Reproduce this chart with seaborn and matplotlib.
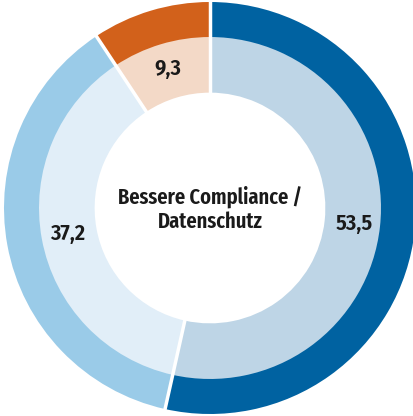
import numpy as np
import matplotlib
matplotlib.use("Agg")
import matplotlib.pyplot as plt
import seaborn as sns

# share of answers (%), clockwise from the top
categories = ["Bessere Compliance / Datenschutz", "Teilweise", "Nein"]
values = [53.5, 37.2, 9.3]
labels = ["53,5", "37,2", "9,3"]
center_text = "Bessere Compliance /\nDatenschutz"

outer_colors = ["#0062a1", "#9acbe8", "#d2611b"]
inner_colors = ["#bed5e6", "#e1eef8", "#f3d9c7"]

sns.set_style("white")
plt.rcParams["font.family"] = ["Fira Sans Condensed", "PT Sans Narrow", "Roboto Condensed",
                               "Barlow Semi Condensed", "DejaVu Sans"]
narrow = ["Fira Sans Extra Condensed", "Fira Sans Condensed", "PT Sans Narrow", "DejaVu Sans"]

fig = plt.figure(figsize=(4.14, 4.16), dpi=100)
ax = fig.add_axes([0, 0, 1, 1])

# outer dark ring and inner light ring
ax.pie(values, colors=outer_colors, radius=1.0, startangle=90, counterclock=False,
       wedgeprops=dict(width=0.18, linewidth=0))
ax.pie(values, colors=inner_colors, radius=0.83, startangle=90, counterclock=False,
       wedgeprops=dict(width=0.27, linewidth=0))

# white radial separators between the segments
bounds = np.cumsum([0] + values[:-1]) / sum(values)
for b in bounds:
    ang = np.deg2rad(90 - 360 * b)
    ax.plot([0.5 * np.cos(ang), 1.05 * np.cos(ang)],
            [0.5 * np.sin(ang), 1.05 * np.sin(ang)],
            color="white", lw=2.5, solid_capstyle="butt")

# value labels in the middle of the inner ring
mids = (np.cumsum(values) - np.array(values) / 2) / sum(values)
for m, lab in zip(mids, labels):
    ang = np.deg2rad(90 - 360 * m)
    ax.text(0.705 * np.cos(ang), 0.705 * np.sin(ang), lab, ha="center", va="center",
            fontsize=16, fontweight="semibold", color="#1a1a1a")

ax.text(0, -0.005, center_text, ha="center", va="center", fontsize=16,
        fontweight="semibold", color="#1a1a1a", linespacing=1.2, family=narrow)

ax.set_aspect("auto")
ax.set_xlim(-210 / 206, 204 / 206)
ax.set_ylim(-208 / 206, 208 / 206)
ax.axis("off")

fig.savefig("out.png", dpi=100, facecolor="white")
